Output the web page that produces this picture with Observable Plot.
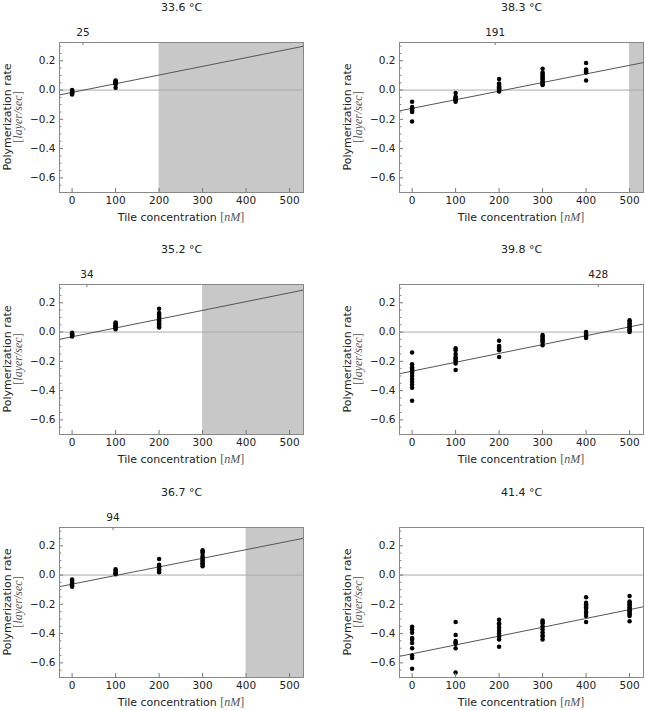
<!DOCTYPE html>
<html><head><meta charset="utf-8">
<script src="https://cdn.jsdelivr.net/npm/d3@7"></script>
<script src="https://cdn.jsdelivr.net/npm/@observablehq/plot@0.6"></script>
<style>
body{margin:0;background:#fff;}
#root{position:relative;width:645px;height:710px;overflow:hidden;}
.panel{position:absolute;}
</style></head><body><div id="root"></div>
<script>
// ---- data ----
const temperatures = ["33.6 °C", "38.3 °C", "35.2 °C", "39.8 °C", "36.7 °C", "41.4 °C"];
const concentrations = [0, 100, 200, 300, 400, 500];
const yTicks = [-0.6, -0.4, -0.2, 0, 0.2];

const rates336 = [
  [0.0, -0.005, -0.01, -0.015, -0.02, -0.025, -0.03],
  [0.065, 0.06, 0.055, 0.05, 0.045, 0.04, 0.015]
];
const rates383 = [
  [-0.08, -0.115, -0.125, -0.13, -0.14, -0.15, -0.215],
  [-0.02, -0.045, -0.055, -0.06, -0.065, -0.07, -0.08],
  [0.075, 0.045, 0.035, 0.025, 0.02, 0.01, 0.005, 0.0, -0.01],
  [0.145, 0.12, 0.11, 0.1, 0.09, 0.08, 0.07, 0.06, 0.05, 0.04, 0.035],
  [0.185, 0.14, 0.13, 0.125, 0.12, 0.065]
];
const rates352 = [
  [-0.005, -0.01, -0.015, -0.02, -0.025, -0.03],
  [0.065, 0.06, 0.05, 0.045, 0.04, 0.035, 0.03, 0.02],
  [0.16, 0.13, 0.12, 0.11, 0.1, 0.09, 0.08, 0.07, 0.06, 0.05, 0.04, 0.032]
];
const rates398 = [
  [-0.14, -0.22, -0.24, -0.25, -0.26, -0.27, -0.28, -0.3, -0.32, -0.34, -0.36, -0.38, -0.47],
  [-0.11, -0.125, -0.15, -0.17, -0.18, -0.19, -0.2, -0.215, -0.26],
  [-0.06, -0.095, -0.105, -0.115, -0.125, -0.17],
  [-0.02, -0.03, -0.04, -0.05, -0.06, -0.07, -0.09],
  [0.0, -0.01, -0.02, -0.03, -0.04],
  [0.08, 0.07, 0.06, 0.05, 0.04, 0.03, 0.02, 0.01, 0.0]
];
const rates367 = [
  [-0.03, -0.04, -0.05, -0.06, -0.07, -0.08],
  [0.04, 0.03, 0.02, 0.01, 0.005],
  [0.11, 0.07, 0.06, 0.05, 0.04, 0.03, 0.02],
  [0.17, 0.16, 0.15, 0.13, 0.12, 0.11, 0.1, 0.09, 0.08, 0.07, 0.06]
];
const rates414 = [
  [-0.354, -0.372, -0.395, -0.43, -0.44, -0.464, -0.5, -0.55, -0.567, -0.64],
  [-0.32, -0.41, -0.45, -0.46, -0.47, -0.5, -0.665],
  [-0.305, -0.33, -0.34, -0.36, -0.38, -0.4, -0.42, -0.44, -0.49],
  [-0.31, -0.32, -0.33, -0.35, -0.37, -0.39, -0.41, -0.42, -0.44],
  [-0.152, -0.19, -0.2, -0.21, -0.22, -0.23, -0.25, -0.26, -0.28, -0.32],
  [-0.143, -0.18, -0.19, -0.2, -0.21, -0.22, -0.23, -0.24, -0.25, -0.26, -0.27, -0.28, -0.315]
];
const panelRates = [rates336, rates383, rates352, rates398, rates367, rates414];

const fitIntercepts = [-0.016, -0.125, -0.032, -0.267, -0.062, -0.538];
const fitSlopes = [0.000593, 0.000588, 0.0006, 0.000605, 0.000589, 0.000604];
const countLabels = [25, 191, 34, 428, 94, null];
const shadeStarts = [200, 500, 300, null, 400, null];

// ---- layout ----
const xDomain = [-29, 532];
const yDomain = [-0.7, 0.325];
const W = 305, H = 240, mL = 59, mR = 2, mT = 42, mB = 48;
const frameW = W - mL - mR, frameH = H - mT - mB;
const colLeft = [0, 340];
const rowTop = [0, 242, 485];
const FONT = "DejaVu Sans, sans-serif";

const minorY = d3.range(-0.7, 0.33, 0.05).map(v => +v.toFixed(2)).filter(v => !yTicks.some(t => Math.abs(t - v) < 1e-6));

const root = document.getElementById("root");

temperatures.forEach((temp, i) => {
  const pts = [];
  panelRates[i].forEach((arr, j) => arr.forEach(r => pts.push({x: concentrations[j], y: r})));
  const fit = xDomain.map(x => ({x, y: fitIntercepts[i] + fitSlopes[i] * x}));
  const shade = shadeStarts[i] != null ? [{x1: shadeStarts[i], x2: xDomain[1]}] : [];
  const lab = countLabels[i] != null ? [countLabels[i]] : [];

  const chart = Plot.plot({
    width: W, height: H,
    marginLeft: mL, marginRight: mR, marginTop: mT, marginBottom: mB,
    style: {fontFamily: FONT, fontSize: "10.5px", color: "#222", overflow: "visible"},
    x: {domain: xDomain, ticks: concentrations, tickFormat: d => d, tickSize: 0, tickPadding: 4, label: null},
    y: {domain: yDomain, ticks: yTicks, tickFormat: d3.format(".1f"), tickSize: 0, tickPadding: 4, label: null},
    marks: [
      Plot.rect(shade, {x1: "x1", x2: "x2", fill: "#c8c8c8"}),
      Plot.ruleY([0], {stroke: "#aaa", strokeWidth: 1}),
      Plot.line(fit, {x: "x", y: "y", stroke: "#555", strokeWidth: 1}),
      Plot.dot(pts, {x: "x", y: "y", r: 2.25, fill: "#000"}),
      Plot.tickY(yTicks, {y: d => d, insetRight: frameW - 4, stroke: "#777"}),
      Plot.tickY(minorY, {y: d => d, insetRight: frameW - 2.5, stroke: "#888"}),
      Plot.tickX(concentrations, {x: d => d, insetTop: frameH - 4, stroke: "#777"}),
      Plot.tickX(lab, {x: d => d, insetBottom: frameH - 3, stroke: "#777"}),
      Plot.text(lab, {x: d => d, text: d => String(d), frameAnchor: "top", lineAnchor: "middle", dy: -10, fontSize: 10.5, fill: "#222"}),
      Plot.text([temp], {text: d => d, frameAnchor: "top", lineAnchor: "middle", dy: -35, fontSize: 11, fill: "#222"}),
      Plot.frame({stroke: "#888"})
    ]
  });

  const svg = d3.select(chart);
  const [x0, x1] = chart.scale("x").range;
  const [yb, yt] = chart.scale("y").range;
  const xm = (x0 + x1) / 2, ym = (yb + yt) / 2;

  // x axis label
  const xl = svg.append("text")
    .attr("x", xm).attr("y", yb + 25).attr("dy", "0.35em")
    .attr("text-anchor", "middle").attr("font-family", FONT).attr("font-size", 11).attr("fill", "#222");
  xl.append("tspan").text("Tile concentration ");
  const xu = xl.append("tspan").attr("font-family", "Liberation Serif, serif").attr("font-size", 12).attr("fill", "#555");
  xu.append("tspan").text("[");
  xu.append("tspan").attr("font-style", "italic").text("nM");
  xu.append("tspan").text("]");

  // y axis label (two lines)
  svg.append("text")
    .attr("transform", `translate(7,${ym}) rotate(-90)`).attr("dy", "0.35em")
    .attr("text-anchor", "middle").attr("font-family", FONT).attr("font-size", 11).attr("fill", "#222")
    .text("Polymerization rate");
  const yl = svg.append("text")
    .attr("transform", `translate(17.5,${ym}) rotate(-90)`).attr("dy", "0.35em")
    .attr("text-anchor", "middle").attr("font-family", "Liberation Serif, serif").attr("font-size", 12).attr("fill", "#555");
  yl.append("tspan").text("[");
  yl.append("tspan").attr("font-style", "italic").text("layer/sec");
  yl.append("tspan").text("]");

  const div = document.createElement("div");
  div.className = "panel";
  div.style.left = colLeft[i % 2] + "px";
  div.style.top = rowTop[Math.floor(i / 2)] + "px";
  div.appendChild(chart);
  root.appendChild(div);
});
</script>
</body></html>
